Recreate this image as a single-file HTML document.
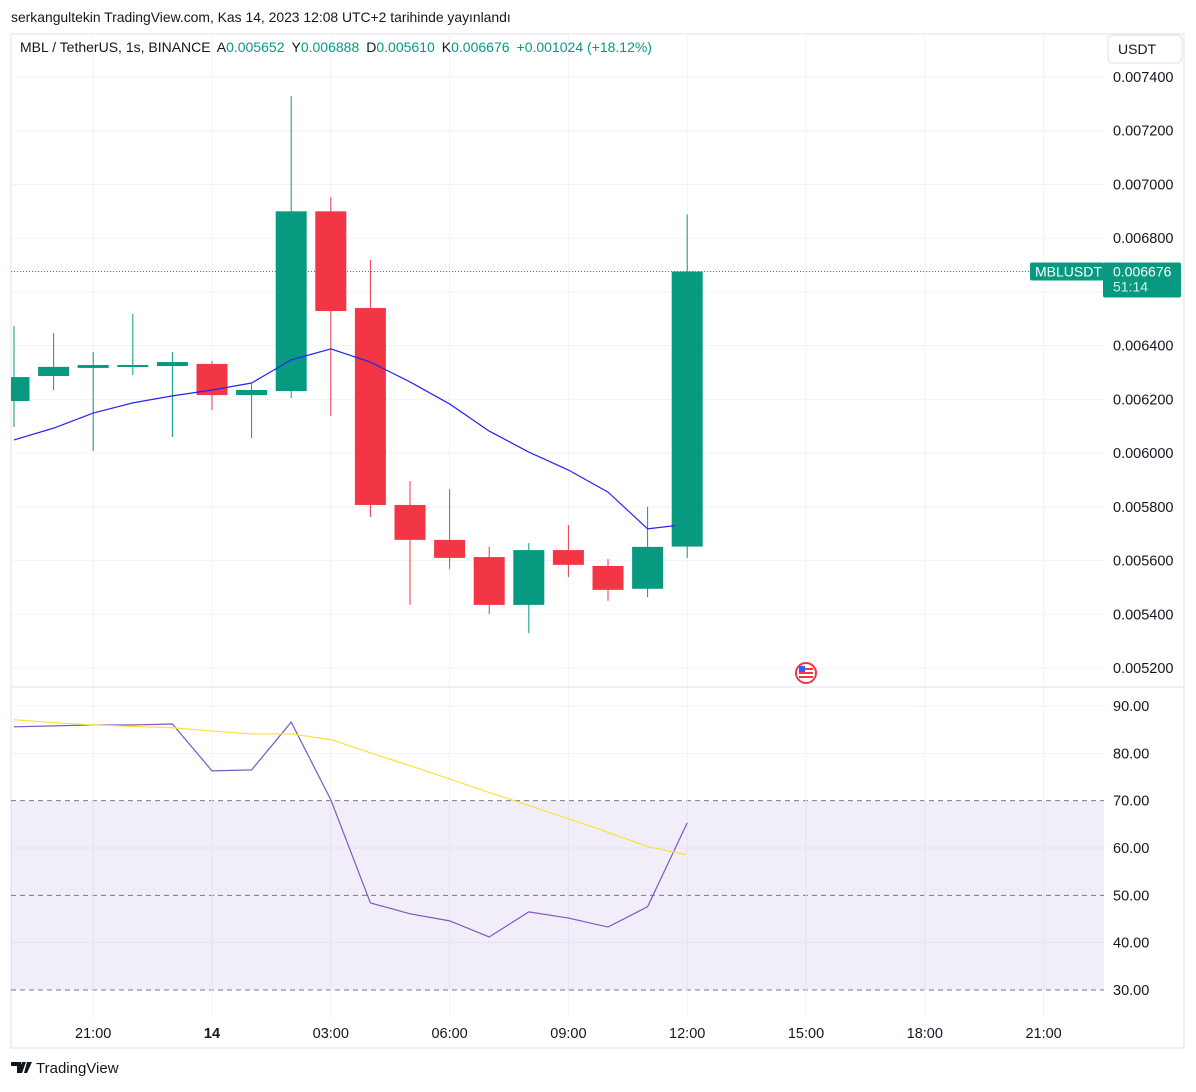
<!DOCTYPE html>
<html><head><meta charset="utf-8"><style>
html,body{margin:0;padding:0;background:#fff;}
body{width:1196px;height:1087px;overflow:hidden;font-family:"Liberation Sans",sans-serif;}
svg text{font-family:"Liberation Sans",sans-serif;}
</style></head><body>
<svg id="c" width="1196" height="1087" xmlns="http://www.w3.org/2000/svg">
<text x="11" y="22" font-size="13.9" fill="#131722">serkangultekin TradingView.com, Kas 14, 2023 12:08 UTC+2 tarihinde yayınlandı</text>
<rect x="11" y="34" width="1173" height="1014" fill="none" stroke="#e0e3eb"/>
<g id="grid"></g>
<rect x="11" y="801" width="1093" height="189" fill="#7e57c2" fill-opacity="0.1"/>
<g id="marks"></g>
<line x1="11" y1="687" x2="1184" y2="687" stroke="#e0e3eb"/>
<text x="20" y="52" font-size="14" fill="#131722">MBL / TetherUS, 1s, BINANCE <tspan dx="3">A</tspan><tspan fill="#089981">0.005652</tspan><tspan dx="7">Y</tspan><tspan fill="#089981">0.006888</tspan><tspan dx="7">D</tspan><tspan fill="#089981">0.005610</tspan><tspan dx="7">K</tspan><tspan fill="#089981">0.006676</tspan><tspan dx="7" fill="#089981">+0.001024 (+18.12%)</tspan></text>
<rect x="1108" y="35" width="74" height="28" rx="5" fill="#fff" stroke="#e0e3eb"/>
<text x="1118" y="54" font-size="14" fill="#131722">USDT</text>
<g><circle cx="806" cy="673" r="10" fill="#fff" stroke="#f23645" stroke-width="2"/><rect x="799" y="668" width="14" height="2" fill="#f23645"/><rect x="799" y="672" width="14" height="2" fill="#f23645"/><rect x="799" y="676" width="14" height="2" fill="#f23645"/><rect x="799" y="666" width="6" height="6" fill="#2962ff"/></g>
<g><path d="M11 1062h10v11h-4v-7h-6z M22 1062h4l-4 11h-4z M27 1062h5l-5 11h-3z" fill="#131722"/><text x="36" y="1073" font-size="15" fill="#131722">TradingView</text></g>
</svg>
<script>
const hours=[19,20,21,22,23,0,1,2,3,4,5,6,7,8,9,10,11,12];
const opens=[0.006194,0.006287,0.006317,0.006324,0.006324,0.006332,0.006216,0.006231,0.006900,0.006540,0.005807,0.005677,0.005613,0.005435,0.005639,0.005580,0.005495,0.005652];
const highs=[0.006473,0.006447,0.006376,0.006518,0.006376,0.006343,0.006257,0.007329,0.006953,0.006719,0.005896,0.005866,0.005651,0.005665,0.005732,0.005606,0.005800,0.006888];
const lows=[0.006097,0.006235,0.006008,0.006291,0.006060,0.006160,0.006056,0.006205,0.006138,0.005762,0.005435,0.005569,0.005401,0.005330,0.005539,0.005450,0.005464,0.005610];
const closes=[0.006283,0.006321,0.006328,0.006328,0.006339,0.006216,0.006235,0.006900,0.006529,0.005807,0.005677,0.005610,0.005435,0.005639,0.005584,0.005491,0.005651,0.006676];
const maValues=[0.006049,0.006093,0.006149,0.006187,0.006213,0.006235,0.006261,0.006347,0.006388,0.006339,0.006265,0.006183,0.006082,0.006004,0.005937,0.005855,0.005718,0.005730];
const rsiValues=[85.6,85.8,86.0,86.0,86.2,76.3,76.5,86.6,70.2,48.4,46.1,44.6,41.2,46.5,45.2,43.3,47.6,65.3];
const rsiMaValues=[87.1,86.5,86.0,85.7,85.4,84.7,84.1,84.1,82.9,80.1,77.4,74.6,71.7,69.0,66.2,63.3,60.3,58.6];
const priceTicks=[0.0074,0.0072,0.0070,0.0068,0.0066,0.0064,0.0062,0.0060,0.0058,0.0056,0.0054,0.0052];
const rsiTicks=[90,80,70,60,50,40,30];
const timeLabels=["21:00","14","03:00","06:00","09:00","12:00","15:00","18:00","21:00"];
const lastPrice=0.006676;

const NS="http://www.w3.org/2000/svg";
const xOf=i=>14+i*39.6;
const yP=p=>77+(0.0074-p)/0.0002*53.73;
const yR=v=>706+(90-v)*4.733;
function mk(par,tag,at){const e=document.createElementNS(NS,tag);for(const k in at)e.setAttribute(k,at[k]);document.getElementById(par).appendChild(e);return e;}
priceTicks.forEach(p=>{const y=yP(p);
 const l=mk('grid','line',{x1:11,x2:1104,y1:y,y2:y,stroke:'#f0f3fa'});
 
 
 const t=mk('grid','text',{x:1113,y:y+5,'font-size':14.5,fill:'#131722'});t.textContent=p.toFixed(6);
 
 });
rsiTicks.forEach(v=>{const y=yR(v);
 const dashed=(v===70||v===50||v===30);
 const l=mk('grid','line',dashed?{x1:11,x2:1104,y1:y,y2:y,stroke:'#787b86','stroke-dasharray':'5,4'}:{x1:11,x2:1104,y1:y,y2:y,stroke:'#f0f3fa'});
 
 
 const t=mk('grid','text',{x:1113,y:y+5,'font-size':14.5,fill:'#131722'});t.textContent=v.toFixed(2);
 
 });
timeLabels.forEach((s,k)=>{const x=xOf(2+3*k);
 const l=mk('grid','line',{x1:x,x2:x,y1:34,y2:1018,stroke:'#f0f3fa'});
 
 
 const t=mk('grid','text',{x:x,y:1038,'font-size':14.5,fill:'#131722','text-anchor':'middle','font-weight':s==='14'?'bold':'normal'});t.textContent=s;
 
 });
opens.forEach((o,i)=>{const c=closes[i];const col=c>=o?'#089981':'#f23645';const x=xOf(i);
 const w=mk('marks','line',{x1:x,x2:x,y1:yP(highs[i]),y2:yP(lows[i]),stroke:col,'stroke-width':1});
 
 
 const top=yP(Math.max(o,c)),bot=yP(Math.min(o,c));
 const r=mk('marks','rect',{x:Math.max(11,x-15.5),y:top,width:x-15.5<11?x+15.5-11:31,height:Math.max(2,bot-top),fill:col});
 
 });
const ma=mk('marks','polyline',{points:maValues.map((v,i)=>`${i===17?675:xOf(i)},${yP(v)}`).join(' '),fill:'none',stroke:'#2424f5',"stroke-width":1.2});


const rl=mk('marks','polyline',{points:rsiValues.map((v,i)=>`${xOf(i)},${yR(v)}`).join(' '),fill:'none',stroke:'#7e57c2',"stroke-width":1.2});


const rm=mk('marks','polyline',{points:rsiMaValues.map((v,i)=>`${i===17?686:xOf(i)},${yR(v)}`).join(' '),fill:'none',stroke:'#f7e33a',"stroke-width":1.2});


const yl=yP(lastPrice);
const pl=mk('marks','line',{x1:11,x2:1030,y1:yl,y2:yl,stroke:'#089981','stroke-dasharray':'1,2'});


const b1=mk('marks','rect',{x:1030,y:yl-9,width:74,height:18,rx:2,fill:'#089981'});


const b2=mk('marks','rect',{x:1103,y:yl-9,width:78,height:35,rx:2,fill:'#089981'});


const t1=mk('marks','text',{x:1035,y:yl+5,'font-size':14,fill:'#fff'});t1.textContent='MBLUSDT';


const t2=mk('marks','text',{x:1113,y:yl+5,'font-size':14,fill:'#fff'});t2.textContent=lastPrice.toFixed(6);


const t3=mk('marks','text',{x:1113,y:yl+20,'font-size':14,fill:'#d6f0ea'});t3.textContent='51:14';


</script>
</body></html>
